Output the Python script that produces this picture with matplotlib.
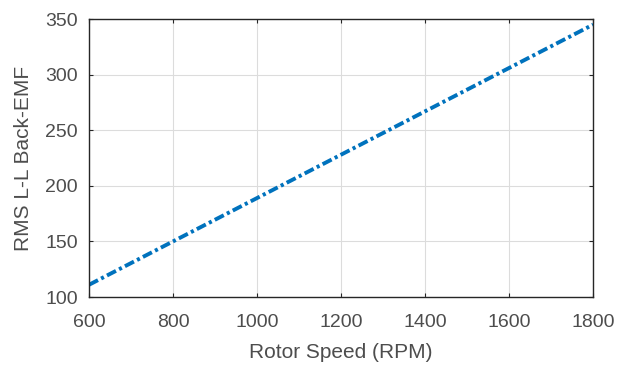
import matplotlib
matplotlib.use('Agg')
import matplotlib.pyplot as plt

rotor_speed = [600, 800, 1000, 1200, 1400, 1600, 1800]
back_emf = [111, 150, 189, 228, 267, 306, 345]

plt.rcParams['font.family'] = ['Liberation Sans', 'DejaVu Sans']

fig = plt.figure(figsize=(6.29, 3.66), dpi=100)
ax = fig.add_axes([0.1415, 0.1885, 0.8015, 0.7595])

ax.plot(rotor_speed, back_emf, color='#0072BD', linewidth=2.8,
        linestyle=(0, (2.6, 0.9, 0.8, 0.9)), dash_capstyle='butt')

ax.set_xlim(600, 1800)
ax.set_ylim(100, 350)
ax.set_xticks(range(600, 1801, 200))
ax.set_yticks(range(100, 351, 50))
ax.grid(True, color='#dcdcdc', linewidth=0.8)
ax.set_axisbelow(True)

for s in ax.spines.values():
    s.set_color('#262626')
    s.set_linewidth(1.0)
ax.tick_params(direction='in', length=3, colors='#262626', labelsize=14,
               top=True, right=True)
ax.tick_params(axis='x', pad=12)
ax.tick_params(axis='y', pad=8)
for lbl in ax.get_xticklabels() + ax.get_yticklabels():
    lbl.set_color('#4d4d4d')

ax.set_xlabel('Rotor Speed (RPM)', fontsize=15, color='#4d4d4d', labelpad=9)
ax.set_ylabel('RMS L-L Back-EMF', fontsize=15, color='#4d4d4d', labelpad=9)

fig.savefig('out.png', dpi=100)
